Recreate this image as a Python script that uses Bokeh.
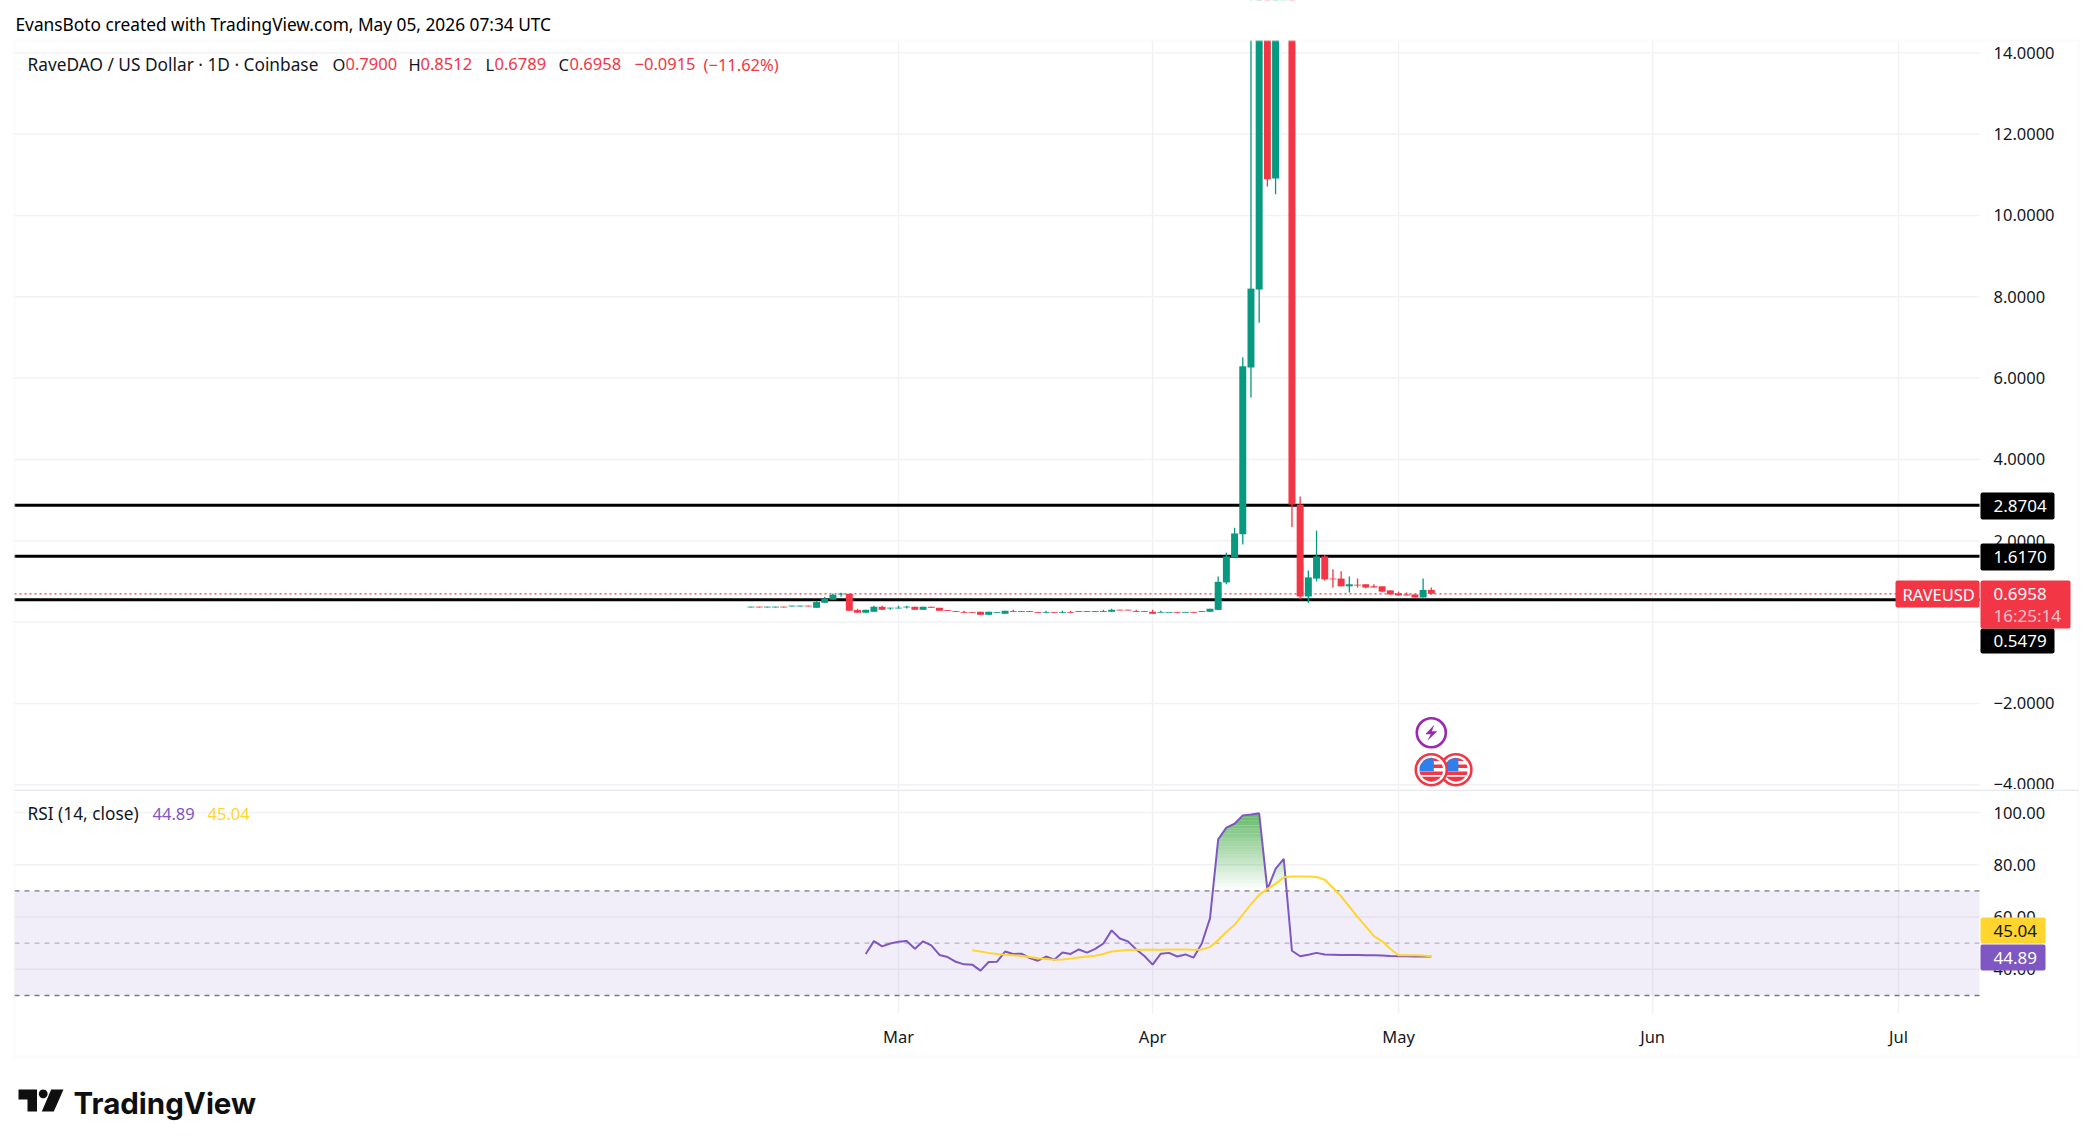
import numpy as np
import pandas as pd
from bokeh.plotting import figure
from bokeh.layouts import column
from bokeh.models import (Range1d, FixedTicker, LinearAxis, Label, BoxAnnotation,
                          PolyAnnotation, ColumnDataSource)
from bokeh.embed import file_html
from bokeh.resources import INLINE

# ---------------- data ----------------
candle_start = "2026-02-11"
opens = [.360,.380,.360,.360,.380,.385,.385,.405,.352,.475,.549,.680,.697,.295,.230,.254,.377,.335,.335,.360,
         .377,.303,.377,.352,.295,.270,.250,.250,.254,.180,.230,.205,.270,.250,.270,.250,.230,.250,.230,.250,
         .250,.270,.250,.250,.254,.305,.305,.270,.270,.254,.230,.230,.250,.230,.250,.250,.254,.300,.975,1.59,
         2.16,6.26,8.18,17.5,10.91,18.9,20.5,2.89,.63,1.07,1.615,1.07,1.07,.88,.92,.93,.88,.88,.78,.705,.68,.68,.605,.79]
closes = [.380,.360,.380,.380,.360,.405,.405,.385,.492,.574,.672,.700,.279,.230,.303,.377,.303,.355,.355,.380,
          .303,.377,.352,.279,.275,.250,.230,.230,.180,.254,.250,.279,.250,.270,.250,.230,.250,.230,.250,.230,
          .270,.250,.270,.270,.303,.285,.285,.250,.250,.205,.250,.250,.230,.250,.230,.270,.328,.990,1.615,2.18,
          6.29,8.20,17.5,10.89,18.9,20.5,2.89,.63,1.10,1.615,1.05,1.05,.88,.93,.90,.85,.85,.75,.68,.655,.655,.605,.79,.6958]
highs = [.380,.380,.380,.380,.380,.405,.405,.405,.525,.623,.705,.721,.697,.328,.303,.402,.402,.355,.402,.402,
         .377,.377,.377,.352,.295,.270,.279,.250,.254,.254,.250,.279,.303,.270,.270,.250,.279,.250,.279,.279,
         .270,.270,.270,.303,.328,.305,.305,.303,.270,.303,.279,.250,.250,.250,.250,.270,.328,1.12,1.71,2.32,
         6.51,16.0,19.0,18.5,20.0,27.0,21.0,3.09,1.27,2.25,1.65,1.30,1.25,1.12,1.07,.93,.93,.88,.78,.75,.73,.68,1.07,.8512]
lows = [.360,.360,.360,.360,.360,.385,.385,.385,.352,.475,.549,.623,.279,.230,.230,.254,.303,.303,.335,.336,
        .303,.303,.352,.279,.275,.250,.230,.230,.180,.180,.230,.205,.250,.250,.250,.230,.230,.230,.230,.230,
        .250,.250,.250,.250,.254,.285,.285,.250,.250,.205,.250,.250,.230,.250,.230,.250,.254,.300,.93,1.59,
        1.91,5.52,7.36,10.71,10.52,15.5,2.34,.56,.47,1.0,1.02,.85,.88,.73,.85,.83,.85,.73,.68,.655,.655,.605,.605,.6789]

rsi_start = "2026-02-25"
rsi_values = [45.9,50.8,48.8,49.9,50.6,50.8,47.9,50.7,49.2,45.5,44.7,42.9,41.9,41.8,39.5,42.8,42.9,46.8,45.9,46.0,
              44.3,43.3,44.9,43.7,46.4,45.9,47.6,46.4,47.8,49.9,54.9,51.8,50.7,47.6,45.1,41.8,46.0,46.3,44.9,45.7,
              44.5,49.9,59.5,89.7,94.2,95.7,98.9,99.2,99.7,70.5,78.4,82.3,47.1,45.0,45.6,46.3,45.7,45.6,45.5,45.5,
              45.5,45.4,45.4,45.3,45.1,45.0,45.0,44.9,45.0,44.89]
ma_start = "2026-03-10"
ma_values = [47.3,46.8,46.3,45.9,45.6,45.4,45.1,44.7,44.2,44.0,43.7,43.8,44.1,44.5,44.9,45.2,45.9,46.8,47.1,47.4,
             47.5,47.5,47.5,47.5,47.6,47.6,47.55,47.5,47.6,48.5,51.2,54.3,57.1,60.9,64.9,68.5,70.8,72.7,75.2,75.5,
             75.5,75.5,75.3,74.3,71.2,67.9,64.0,60.1,56.4,52.7,50.7,47.9,45.4,45.4,45.4,45.3,45.04]

price_levels = [2.8704, 1.6170, 0.5479]
last_price = 0.6958
price_ticks = [14, 12, 10, 8, 6, 4, 2, 0, -2, -4]
price_tick_labels = ["14.0000", "12.0000", "10.0000", "8.0000", "6.0000", "4.0000", "2.0000", "0.0000", "\u22122.0000", "\u22124.0000"]
rsi_ticks = [100, 80, 60, 40]
rsi_tick_labels = ["100.00", "80.00", "60.00", "40.00"]
month_ticks = ["2026-03-01", "2026-04-01", "2026-05-01", "2026-06-01", "2026-07-01"]
month_labels = ["Mar", "Apr", "May", "Jun", "Jul"]
event_dates = {"bolt": "2026-05-05", "flag1": "2026-05-05", "flag2": "2026-05-08"}

# ---------------- helpers ----------------
DAY = 86400000.0
def ms(d):
    return (pd.Timestamp(d) - pd.Timestamp("1970-01-01")) / pd.Timedelta(milliseconds=1)

FONT = "Noto Sans"
INK = "#131722"
UP, DOWN = "#089981", "#F23645"
GRID = "#F1F2F5"
LINE = "#F0F1F3"
PURPLE, YELLOW = "#7E57C2", "#FFD52E"

# Each figure's plot area fills its whole canvas, so decorations outside the panes are not clipped.
W, H_MAIN, H_RSI = 2085, 789, 349
PX_DAY = 8.197
PX_PRICE = 40.667
PX_RSI = 2.614
mar1 = ms("2026-03-01")
def x_at(px):
    return mar1 + (px - 898) / PX_DAY * DAY
def price_at(py):
    return (621.6 - py) / PX_PRICE
def rsi_at(py):
    return 100 + (812 - py) / PX_RSI

pane_x0, pane_x1 = x_at(14), x_at(1979)
price_top, price_bottom = price_at(40), price_at(789)
rsi_top, rsi_bottom = rsi_at(790), rsi_at(1013)
x_range = Range1d(x_at(0), x_at(W))

def label(text, x, y, color=INK, size=16.5, style="normal", align="left", base="middle", font=FONT):
    return Label(x=x, y=y, x_units="canvas", y_units="canvas", text=text, text_color=color,
                 text_font=font, text_font_size=f"{size}px", text_font_style=style,
                 text_align=align, text_baseline=base, level="annotation")

def box(l, r, t, b, fill, radius=2):
    return BoxAnnotation(left=l, right=r, top=t, bottom=b, left_units="canvas", right_units="canvas",
                         top_units="canvas", bottom_units="canvas", fill_color=fill, fill_alpha=1,
                         line_alpha=0, border_radius=radius, level="annotation")

def frame(l, r, t, b):
    return BoxAnnotation(left=l, right=r, top=t, bottom=b, left_units="canvas", right_units="canvas",
                         top_units="canvas", bottom_units="canvas", fill_alpha=0,
                         line_color=LINE, line_width=2, level="annotation")

def hline(fig, values, **kw):
    fig.segment(pane_x0, values, pane_x1, values, level="underlay", **kw)

def vgrid(fig, bottom, top):
    t = [ms(m) for m in month_ticks]
    fig.segment(t, bottom, t, top, line_color=GRID, line_width=1.5, level="underlay")

def right_axis(ticks, tick_labels):
    return LinearAxis(ticker=FixedTicker(ticks=ticks), fixed_location=pane_x1,
                      major_label_overrides=dict(zip(ticks, tick_labels)),
                      axis_line_color=None, major_tick_line_color=None, minor_tick_line_color=None,
                      major_label_text_font=FONT, major_label_text_font_size="16.5px",
                      major_label_text_color=INK, major_label_standoff=8)

def place(fig, *objs):
    for o in objs:
        fig.add_layout(o)

# ---------------- price pane ----------------
main = figure(width=W, height=H_MAIN, x_range=x_range, y_range=Range1d(price_at(H_MAIN), price_at(0)),
              output_backend="svg", toolbar_location=None, x_axis_location=None, y_axis_location=None,
              min_border=0, background_fill_color="white", border_fill_color="white", outline_line_color=None)
main.grid.visible = False
vgrid(main, price_bottom, price_top)
hline(main, price_ticks, line_color=GRID, line_width=1.5)
main.add_layout(right_axis(price_ticks, price_tick_labels), "right")
hline(main, price_levels, line_color="#000000", line_width=3)
hline(main, [last_price], line_color=DOWN, line_width=1.3, line_dash="2 3")

dates = pd.date_range(candle_start, periods=len(opens))
xs = [ms(d) for d in dates]
src = ColumnDataSource(dict(
    x=xs, o=opens, h=highs, l=lows, c=closes,
    top=[max(a, b) for a, b in zip(opens, closes)],
    bottom=[min(a, b) for a, b in zip(opens, closes)],
    color=[UP if c >= o else DOWN for o, c in zip(opens, closes)]))
main.segment("x", "h", "x", "l", source=src, line_color="color", line_width=1.3)
main.vbar("x", width=0.85 * DAY, top="top", bottom="bottom", source=src, fill_color="color", line_color=None)

# event icons
def px_poly(date, price, pts):
    cx = ms(date)
    return ([cx + p[0] / PX_DAY * DAY for p in pts], [price - p[1] / PX_PRICE for p in pts])

def strip(date, price, xa, xb, ya, yb, r):
    ys_px = np.linspace(ya, yb, 9)
    half = np.sqrt(np.maximum(r * r - ys_px ** 2, 0))
    left = [(max(xa, -h), y) for h, y in zip(half, ys_px)]
    right = [(min(xb, h), y) for h, y in zip(half, ys_px)]
    return px_poly(date, price, left + right[::-1])

bolt_price = -2.72
flag_price = -3.63
for d in [event_dates["flag2"], event_dates["flag1"]]:
    main.scatter([ms(d)], [flag_price], size=31, marker="circle", fill_color="white",
                 line_color=DOWN, line_width=2.6)
    reds = [strip(d, flag_price, -12, 12, a, b, 11.8) for a, b in [(-12, -8.6), (-5.2, -1.8), (1.8, 5.2), (7, 12)]]
    main.patches([p[0] for p in reds], [p[1] for p in reds], fill_color=DOWN, line_color=None)
    blue = strip(d, flag_price, -12, 2.5, -12, 1.5, 11.8)
    main.patch(blue[0], blue[1], fill_color="#2F80ED", line_color=None)
main.scatter([ms(event_dates["bolt"])], [bolt_price], size=29, marker="circle", fill_color="white",
             line_color="#9C27B0", line_width=2.6)
bx, by = px_poly(event_dates["bolt"], bolt_price, [(3, -8), (-6, 1.5), (-0.5, 1.5), (-4, 8), (6, -1.5), (0.5, -1.5)])
main.patch(bx, by, fill_color="#9C27B0", line_color=None)

# white strip hides whatever rises above the pane; then frame and header
place(main, box(-5, W + 5, -5, 40, "white", radius=0),
      frame(14, 2078, 40, 830),
      label("EvansBoto created with TradingView.com, May 05, 2026 07:34 UTC", 15, 23.5, "#000000", 17.3))
leg_y = 63.5
main.add_layout(label("RaveDAO / US Dollar \u00b7 1D \u00b7 Coinbase", 27, leg_y, INK, 17.3))
for txt, x, col in [("O", 332, INK), ("0.7900", 345, DOWN),
                    ("H", 408, INK), ("0.8512", 420, DOWN), ("L", 485, INK), ("0.6789", 494, DOWN),
                    ("C", 558, INK), ("0.6958", 569, DOWN), ("\u22120.0915", 634, DOWN), ("(\u221211.62%)", 703, DOWN)]:
    main.add_layout(label(txt, x, leg_y, col, 16.5))

# price tags
TAG = 17
place(main,
      box(1980, 2054, 492, 519, "#000000"), label("2.8704", 1993, 505.5, "white", TAG),
      box(1980, 2054, 543, 570, "#000000"), label("1.6170", 1993, 556.5, "white", TAG),
      box(1980, 2054, 628, 653, "#000000"), label("0.5479", 1993, 640.5, "white", TAG),
      box(1895, 1979, 580, 607, DOWN), label("RAVEUSD", 1902, 593.5, "white", 16.5),
      box(1980, 2070, 580, 628, DOWN), label("0.6958", 1993, 593.5, "white", TAG),
      label("16:25:14", 1993, 615, "#FBC3C8", TAG))

# ---------------- RSI pane ----------------
rsi = figure(width=W, height=H_RSI, x_range=x_range, y_range=Range1d(rsi_at(789 + H_RSI), rsi_at(789)),
             output_backend="svg", toolbar_location=None, x_axis_location=None, y_axis_location=None,
             min_border=0, background_fill_color="white", border_fill_color="white", outline_line_color=None)
rsi.grid.visible = False
vgrid(rsi, rsi_bottom, rsi_top)
hline(rsi, rsi_ticks, line_color=GRID, line_width=1.5)

month_ms = [ms(m) for m in month_ticks]
rsi.add_layout(LinearAxis(ticker=FixedTicker(ticks=month_ms), fixed_location=rsi_bottom,
                          major_label_overrides=dict(zip(month_ms, month_labels)),
                          axis_line_color=None, major_tick_line_color=None, minor_tick_line_color=None,
                          major_label_text_font=FONT, major_label_text_font_size="16.5px",
                          major_label_text_color=INK, major_label_standoff=5), "below")
rsi.add_layout(right_axis(rsi_ticks, rsi_tick_labels), "right")

rsi.add_layout(BoxAnnotation(left=pane_x0, right=pane_x1, bottom=30, top=70, fill_color=PURPLE,
                             fill_alpha=0.1, line_alpha=0, level="underlay"))
hline(rsi, [70, 30], line_color="#787B86", line_width=1.3, line_dash="5 5")
hline(rsi, [50], line_color="#787B86", line_alpha=0.5, line_width=1.3, line_dash="5 5")

rsi_x = np.array([ms(d) for d in pd.date_range(rsi_start, periods=len(rsi_values))])
ma_x = [ms(d) for d in pd.date_range(ma_start, periods=len(ma_values))]

# overbought gradient: thin bands between the 70 line and the RSI line
fill_x = np.arange(rsi_x[0], rsi_x[-1], DAY / 24)
fill_y = np.interp(fill_x, rsi_x, rsi_values)
for lo in np.arange(70, 100, 1.0):
    hi = lo + 1.0
    idx = np.where(fill_y > lo)[0]
    if len(idx) == 0:
        continue
    for part in np.split(idx, np.where(np.diff(idx) > 1)[0] + 1):
        rsi.varea(fill_x[part], np.full(len(part), lo), np.minimum(fill_y[part], hi),
                  fill_color="#4CAF50", fill_alpha=float((lo - 70) / 30 * 0.9), level="underlay")

rsi.line(rsi_x, rsi_values, line_color=PURPLE, line_width=2)
rsi.line(ma_x, ma_values, line_color=YELLOW, line_width=2)

place(rsi, frame(14, 2078, -20, 267),
      box(14, 2078, 0, 1.5, "#E6E8EC", radius=0),
      box(1980, 2045, 128, 154, YELLOW), label("45.04", 1993, 141, INK, TAG),
      box(1980, 2045, 155, 181, PURPLE), label("44.89", 1993, 168, "white", TAG),
      label("RSI (14, close)", 27, 24, INK, 17.3),
      label("44.89", 152, 24, PURPLE, 16.5),
      label("45.04", 207, 24, YELLOW, 16.5))

# logo
OY = 789
def poly(pts):
    return PolyAnnotation(xs=[p[0] for p in pts], ys=[p[1] - OY for p in pts], xs_units="canvas",
                          ys_units="canvas", fill_color="#0F0F0F", fill_alpha=1, line_alpha=0, level="annotation")
ang = np.linspace(0, 2 * np.pi, 24, endpoint=False)
place(rsi,
      poly([(18, 1089), (36.5, 1089), (36.5, 1111), (27, 1111), (27, 1099), (18, 1099)]),
      poly([(50.7, 1089), (63, 1089), (53.3, 1111), (41.3, 1111)]),
      poly([(42.7 + 4.4 * np.cos(a), 1093.4 + 4.4 * np.sin(a)) for a in ang]),
      label("TradingView", 73, 1102 - OY, "#0F0F0F", 29.5, "bold", font="Inter"))

open("out.html", "w").write(file_html(column(main, rsi, spacing=0), INLINE))
